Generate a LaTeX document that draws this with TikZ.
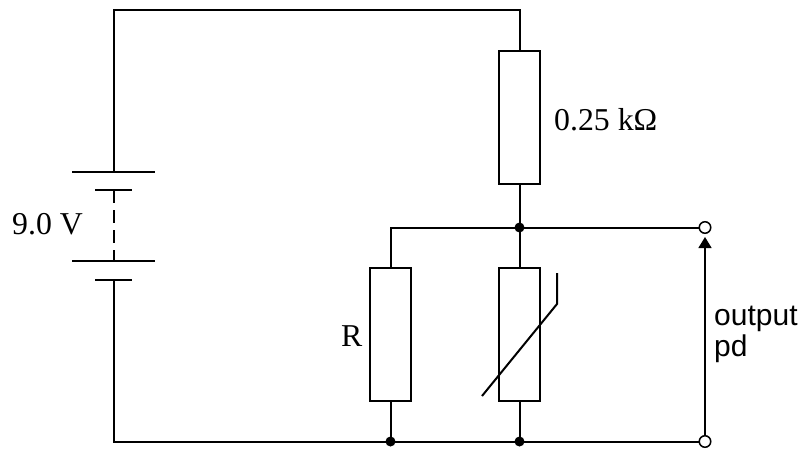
\documentclass[tikz,border=0pt]{standalone}
\usepackage{fontspec}
\usetikzlibrary{arrows.meta}
\setmainfont{Liberation Serif}
\newfontfamily\lsans{Liberation Sans}
\tikzset{
  wire/.style={line width=2pt,black},
  res/.style={draw=black,line width=2pt,fill=white,minimum width=41.5pt,minimum height=133pt,inner sep=0pt,outer sep=0pt},
  dot/.style={circle,fill=black,inner sep=0pt,outer sep=-1pt,minimum size=10pt},
  term/.style={circle,draw=black,line width=1.5pt,fill=white,inner sep=0pt,outer sep=0pt,minimum size=11.5pt},
  lab/.style={inner sep=0pt,font=\fontsize{31.8pt}{34pt}\selectfont},
  sans/.style={inner sep=0pt,align=left,font=\lsans\fontsize{30pt}{31pt}\selectfont}
}
\begin{document}
\begin{tikzpicture}[x=1pt,y=-1pt]
\useasboundingbox (0,0) rectangle (801,448);
\node[res] (r1) at (519.5,117) {};
\node[res] (r2) at (390.5,334.5) {};
\node[res] (th) at (519.5,334.5) {};
\coordinate (tl) at (113.5,10);
\coordinate (tr) at (519.5,10);
\coordinate (bl) at (113.5,441.5);
\coordinate (p1t) at (72,172);
\coordinate (p1b) at (155,172);
\coordinate (p2t) at (95,190);
\coordinate (p2b) at (132,190);
\coordinate (p3t) at (72,261);
\coordinate (p3b) at (155,261);
\coordinate (p4t) at (95,279.5);
\coordinate (p4b) at (132,279.5);
\coordinate (batt1) at (113.5,172);
\coordinate (batt2) at (113.5,279.5);
\coordinate (d1) at (113.5,190);
\coordinate (d2) at (113.5,261);
\node[dot] (jt) at (519.5,227.5) {};
\node[dot] (jb) at (519.5,441.5) {};
\node[dot] (jr) at (390.5,441.5) {};
\coordinate (cr) at (390.5,227.5);
\node[term] (ot) at (705,227.5) {};
\node[term] (ob) at (705,441.5) {};
\draw[wire] (batt1) -- (tl) -- (tr) -- (r1.north);
\draw[wire] (r1.south) -- (jt.center) -- (th.north);
\draw[wire] (th.south) -- (jb.center);
\draw[wire] (batt2) -- (bl) -- (jr.center) -- (jb.center) -- (ob);
\draw[wire] (r2.south) -- (jr.center);
\draw[wire] (r2.north) -- (cr) -- (jt.center) -- (ot);
\draw[wire] (p1t) -- (p1b);
\draw[wire] (p2t) -- (p2b);
\draw[wire] (p3t) -- (p3b);
\draw[wire] (p4t) -- (p4b);
\draw[wire,dash pattern=on 13pt off 7pt] (d1) -- (d2);
\coordinate (t1) at (482,396);
\coordinate (t2) at (557,304);
\coordinate (t3) at (557,273);
\draw[wire] (t1) -- (t2) -- (t3);
\coordinate (a2) at (705,237);
\draw[line width=1.5pt,-{Triangle[length=11pt,width=13pt]}] (ob.north) -- (a2);
\node[lab,anchor=base west] at (12,234) {9.0 V};
\node[lab,anchor=base west] at (554,130) {0.25 kΩ};
\node[lab,anchor=base west] at (341,346) {R};
\node[sans,anchor=west] at (714,334) {output\\pd};
\end{tikzpicture}
\end{document}
